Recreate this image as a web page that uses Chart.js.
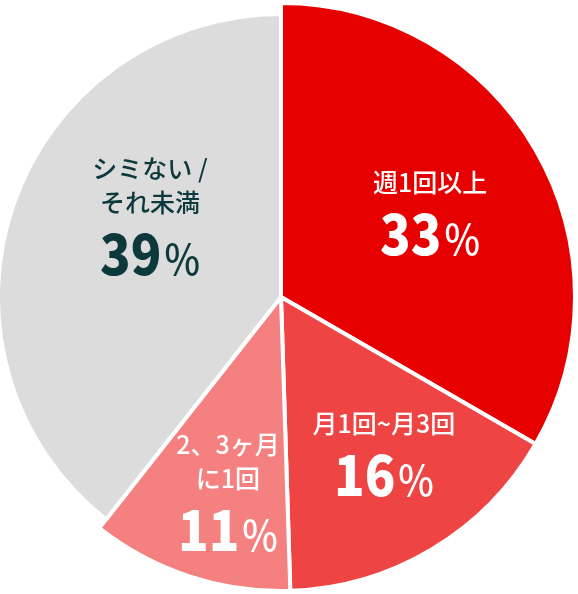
<!DOCTYPE html>
<html>
<head>
<meta charset="utf-8">
<script src="https://cdn.jsdelivr.net/npm/chart.js@4.4.1/dist/chart.umd.min.js"></script>
<style>
  html, body { margin: 0; padding: 0; background: #fff; }
  #wrap { width: 578px; height: 594px; }
</style>
</head>
<body>
<div id="wrap"><canvas id="freqChart"></canvas></div>
<script>
// categories, clockwise from 12 o'clock
const categories = ["週1回以上", "月1回~月3回", "2、3ヶ月に1回", "シミない / それ未満"];
const captionLines = [["週1回以上"], ["月1回~月3回"], ["2、3ヶ月", "に1回"], ["シミない /", "それ未満"]];
const shares = [33, 16, 11, 39];
const shareUnit = "%";

const sliceColors = ["#e60000", "#ef4444", "#f58080", "#dcdcdc"];
const textColors = ["#ffffff", "#ffffff", "#ffffff", "#0e393c"];

// the last slice is drawn a bit smaller than the others
const mutedSlice = {
  id: "mutedSlice",
  afterDatasetsUpdate(chart, args, opts) {
    const arc = chart.getDatasetMeta(0).data[opts.index];
    if (arc) arc.outerRadius -= opts.inset;
  }
};

// captions + big percentage inside each slice
const sliceLabels = {
  id: "sliceLabels",
  afterDatasetsDraw(chart, args, opts) {
    const ctx = chart.ctx;
    const arcs = chart.getDatasetMeta(0).data;
    const numFont = "900 56px 'Noto Sans CJK JP'";
    const pctFont = "500 42px 'Noto Sans CJK JP'";
    const squeeze = 0.9;
    arcs.forEach((arc, i) => {
      const place = opts.place[i];
      const mid = (arc.startAngle + arc.endAngle) / 2 + place.turn * Math.PI / 180;
      const r = arc.outerRadius * place.frac;
      const cx = arc.x + Math.cos(mid) * r;
      const cy = arc.y + Math.sin(mid) * r;

      ctx.save();
      ctx.fillStyle = textColors[i];
      ctx.textAlign = "center";
      ctx.textBaseline = "middle";
      ctx.font = "500 25px 'Noto Sans CJK JP'";
      const lines = captionLines[i];
      lines.forEach((line, k) => {
        const y = cy - 52 - (lines.length - 1 - k) * 34;
        ctx.fillText(line, cx, y);
      });

      // number + thinner percent sign, centred as one piece
      const num = String(shares[i]);
      ctx.textBaseline = "alphabetic";
      ctx.textAlign = "left";
      ctx.font = numFont;
      const wNum = ctx.measureText(num).width * squeeze;
      ctx.font = pctFont;
      const wPct = ctx.measureText(shareUnit).width * squeeze;
      const gap = 3;
      const left = cx - (wNum + gap + wPct) / 2;
      const base = cy + 20;
      ctx.translate(left, base);
      ctx.scale(squeeze, 1);
      ctx.font = numFont;
      ctx.fillText(num, 0, 0);
      ctx.font = pctFont;
      ctx.fillText(shareUnit, (wNum + gap) / squeeze, 0);
      ctx.restore();
    });
  }
};

new Chart(document.getElementById("freqChart"), {
  type: "pie",
  data: {
    labels: categories,
    datasets: [{
      data: shares,
      backgroundColor: sliceColors,
      borderColor: "#ffffff",
      borderWidth: 4,
      clip: false
    }]
  },
  options: {
    responsive: true,
    maintainAspectRatio: false,
    animation: false,
    events: [],
    radius: 294,
    layout: { padding: { right: 16 } },
    plugins: {
      legend: { display: false },
      tooltip: { enabled: false },
      mutedSlice: { index: 3, inset: 11 },
      sliceLabels: {
        place: [
          { frac: 0.549, turn: 7.4 },
          { frac: 0.702, turn: 1 },
          { frac: 0.816, turn: -5.4 },
          { frac: 0.486, turn: -1.3 }
        ]
      }
    }
  },
  plugins: [mutedSlice, sliceLabels]
});
</script>
</body>
</html>
